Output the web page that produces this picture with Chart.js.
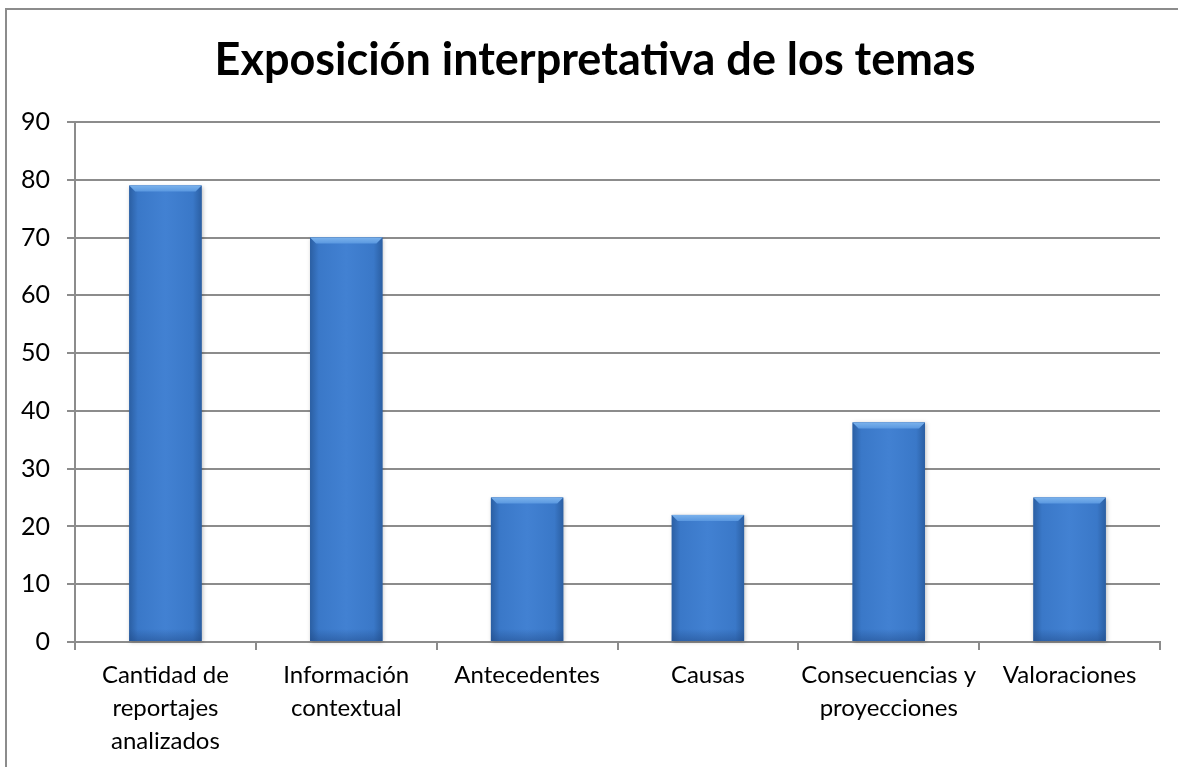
<!DOCTYPE html>
<html>
<head>
<meta charset="utf-8">
<script src="https://cdn.jsdelivr.net/npm/chart.js@4.4.1/dist/chart.umd.min.js"></script>
<style>
  html, body { margin: 0; padding: 0; background: #fff; }
  #wrap { position: relative; width: 1178px; height: 767px; overflow: hidden; }
  #frame {
    position: absolute; left: 5px; top: 8px; width: 1300px; height: 900px;
    border: 2px solid #8c8c8c; box-sizing: border-box;
  }
  #box { position: absolute; left: 0; top: 0; width: 1178px; height: 767px; }
</style>
</head>
<body>
<div id="wrap">
  <div id="frame"></div>
  <div id="box"><canvas id="chart"></canvas></div>
</div>
<script>
// Data
const categories = [
  ['Cantidad de', 'reportajes', 'analizados'],
  ['Información', 'contextual'],
  'Antecedentes',
  'Causas',
  ['Consecuencias y', 'proyecciones'],
  'Valoraciones'
];
const values = [79, 70, 25, 22, 38, 25];
const yTicks = { min: 0, max: 90, step: 10 };

const FONT = 'Lato, "Open Sans", sans-serif';

// Title in the original sits a little right of the canvas centre
const nudgeTitle = {
  id: 'nudgeTitle',
  afterLayout(chart) {
    if (chart.titleBlock) chart.titleBlock.left = 30;
  }
};

// Paint each bar with a side-shaded gradient and a light bevel on top
const bevelBars = {
  id: 'bevelBars',
  afterDatasetsDraw(chart) {
    const ctx = chart.ctx;
    chart.getDatasetMeta(0).data.forEach(bar => {
      const left = bar.x - bar.width / 2;
      const right = bar.x + bar.width / 2;
      const top = bar.y;
      const bottom = bar.base;
      const w = right - left;
      const b = 6; // bevel size

      ctx.save();
      // soft shadow
      ctx.shadowColor = 'rgba(0,0,0,0.25)';
      ctx.shadowBlur = 4;
      ctx.shadowOffsetX = 1;
      ctx.shadowOffsetY = 1;
      const g = ctx.createLinearGradient(left, 0, right, 0);
      g.addColorStop(0, '#2b5fa3');
      g.addColorStop(0.12, '#3a78c8');
      g.addColorStop(0.5, '#4281d2');
      g.addColorStop(0.88, '#3a78c8');
      g.addColorStop(1, '#2b5fa3');
      ctx.fillStyle = g;
      ctx.fillRect(left, top, w, bottom - top);
      ctx.restore();

      ctx.save();
      // bottom darker band
      const gb = ctx.createLinearGradient(0, bottom - 12, 0, bottom);
      gb.addColorStop(0, 'rgba(30,70,130,0)');
      gb.addColorStop(1, 'rgba(30,70,130,0.45)');
      ctx.fillStyle = gb;
      ctx.fillRect(left, bottom - 12, w, 12);

      // top bevel
      ctx.beginPath();
      ctx.moveTo(left, top);
      ctx.lineTo(right, top);
      ctx.lineTo(right - b, top + b);
      ctx.lineTo(left + b, top + b);
      ctx.closePath();
      const gt = ctx.createLinearGradient(0, top, 0, top + b);
      gt.addColorStop(0, '#7bb2ec');
      gt.addColorStop(1, '#5a98e0');
      ctx.fillStyle = gt;
      ctx.fill();
      ctx.restore();
    });
  }
};

new Chart(document.getElementById('chart'), {
  type: 'bar',
  data: {
    labels: categories,
    datasets: [{
      data: values,
      backgroundColor: '#3c7bcc',
      borderWidth: 0,
      categoryPercentage: 1,
      barPercentage: 0.4
    }]
  },
  options: {
    responsive: true,
    maintainAspectRatio: false,
    animation: false,
    devicePixelRatio: 1,
    layout: { padding: { left: 0, right: 18, top: 0, bottom: 0 } },
    plugins: {
      legend: { display: false },
      tooltip: { enabled: false },
      title: {
        display: true,
        text: 'Exposición interpretativa de los temas',
        color: '#000',
        font: { family: FONT, size: 45, weight: 'bold', lineHeight: 1.2 },
        padding: { top: 33, bottom: 35 }
      }
    },
    scales: {
      x: {
        offset: true,
        grid: {
          offset: true,
          drawOnChartArea: false,
          drawTicks: true,
          tickLength: 8,
          color: '#8c8c8c',
          lineWidth: 2
        },
        border: { color: '#8c8c8c', width: 2 },
        ticks: {
          color: '#000',
          padding: 9,
          maxRotation: 0,
          autoSkip: false,
          font: { family: FONT, size: 24, lineHeight: 1.375 }
        }
      },
      y: {
        min: yTicks.min,
        max: yTicks.max,
        afterFit(scale) { scale.width = 75; },
        grid: {
          color: '#8c8c8c',
          lineWidth: 2,
          tickLength: 8
        },
        border: { color: '#8c8c8c', width: 2 },
        ticks: {
          stepSize: yTicks.step,
          color: '#000',
          padding: 17,
          font: { family: FONT, size: 25 }
        }
      }
    }
  },
  plugins: [nudgeTitle, bevelBars]
});
</script>
</body>
</html>
